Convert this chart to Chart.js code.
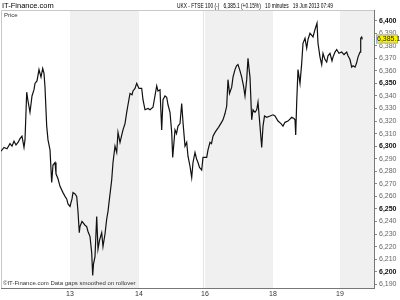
<!DOCTYPE html>
<html>
<head>
<meta charset="utf-8">
<script src="https://cdn.jsdelivr.net/npm/chart.js@4/dist/chart.umd.min.js"></script>
<style>
    html, body { margin: 0; padding: 0; background: #fff; }
    #wrap { width: 400px; height: 300px; }
</style>
</head>
<body>
<div id="wrap"><canvas id="priceChart" width="400" height="300"></canvas></div>
<script>
"use strict";

// 10-minute bar index (from the left edge of the chart) and FTSE 100 price
const barIndex = [
    0, 3, 6, 9, 11, 13, 15, 17, 19, 21, 23, 24, 25.7, 27, 29, 31, 33, 34, 36, 38,
    40, 41.7, 43, 44, 45.7, 47, 49, 50.7, 52, 54, 55, 57, 59, 62, 64, 65.7, 67, 69,
    71, 72, 74, 75.7, 77, 78.3, 79, 81, 82, 84, 85.7, 87, 89, 90.7, 91.7, 92.5, 94,
    95.7, 97, 98.5, 100.7, 102, 104, 105.7, 107, 108, 110.7, 112, 114, 115.7, 117,
    119, 120.5, 122, 124, 125.7, 127, 129, 131, 132, 134, 135.7, 138,
    140.7, 142, 144, 147, 149, 152, 155.7, 157, 159, 160.7, 162, 164, 165.7, 167,
    169, 170.7, 171.7, 174, 175.5, 177, 179, 180.7, 182, 184, 185.7, 187, 189,
    190.7, 192, 194, 195.5, 197, 198.5, 200.7, 202, 205.7, 207, 209, 210.5, 212,
    214, 215.7, 217.5, 219, 220.5, 222, 224, 225.7, 227, 228.5, 230.7, 232, 234,
    235.5, 237, 239, 240.7, 242.5, 244, 245.7, 247, 248, 249, 250.7, 252, 254,
    255.7, 257, 259, 260.7, 262, 263.5, 265.7, 269, 272, 274, 277, 280, 282, 284,
    287, 290.7, 293, 294, 294.7, 295.7, 297, 299, 300.7, 302, 304, 305.7, 307,
    309, 312, 314, 316, 317, 319, 320.7, 322, 324, 325.7, 327, 329, 331, 332,
    334, 335.7, 338, 340.7, 343, 345.7, 347, 349, 350.7, 352, 354, 355.5, 357,
    359, 359.7, 360.7, 361.3
];

const priceValues = [
    6296, 6299, 6298, 6302, 6300, 6304, 6301, 6303, 6306, 6308, 6299, 6305, 6343, 6336, 6327, 6340, 6345, 6350, 6352, 6361,
    6355, 6362, 6358, 6347, 6316, 6305, 6297, 6271, 6285, 6287, 6278, 6274, 6268, 6263, 6260, 6258, 6254, 6252,
    6258, 6263, 6262, 6260, 6248, 6231, 6236, 6240, 6239, 6237, 6236, 6232, 6228, 6215, 6197, 6206, 6212,
    6244, 6218, 6225, 6231, 6220, 6230, 6242, 6248, 6255, 6273, 6287, 6300, 6295, 6311,
    6303, 6308, 6313, 6318, 6327, 6333, 6342, 6341, 6344, 6346, 6350, 6346,
    6346, 6337, 6329, 6330, 6329, 6331, 6348, 6344, 6345, 6313, 6337, 6340, 6339, 6333,
    6327, 6311, 6291, 6313, 6310, 6316, 6318, 6334, 6319, 6300, 6303, 6292, 6284,
    6275, 6287, 6295, 6290, 6287, 6283, 6281, 6291, 6291, 6297, 6303, 6302, 6308,
    6311, 6313, 6315, 6317, 6319, 6321, 6326, 6332, 6353, 6342, 6347, 6355, 6361,
    6364, 6365, 6360, 6355, 6348, 6340, 6353, 6370, 6362, 6355, 6321, 6329, 6327,
    6329, 6335, 6316, 6299, 6316, 6324, 6323, 6324, 6325, 6324, 6320, 6318, 6316, 6319,
    6320, 6323, 6322, 6321, 6309, 6335, 6361, 6350, 6366, 6382, 6386, 6378, 6385,
    6390, 6387, 6393, 6398, 6382, 6371, 6365, 6374, 6369, 6367, 6372, 6374, 6368, 6371,
    6375, 6377, 6374, 6375, 6373, 6375, 6372, 6369, 6363, 6364, 6363, 6366, 6371,
    6375, 6386, 6387, 6385.1
];

// session starts (bar index) and their day labels
const dayStarts = [69, 138, 204, 272, 339];
const dayLabels = ["13", "14", "16", "18", "19"];
// shaded sessions [from, to]
const shadedDays = [[69, 138], [204, 272], [339, 373]];
const weekendGap = 202;

const lastPrice = 6385.1;
const titleParts = [
    "UKX - FTSE 100 (-)",
    "6,385.1 (+0.15%)",
    "10 minutes",
    "19 Jun 2013 07:49"
];

const FONT = "'Liberation Sans', Arial, sans-serif";

function formatPrice(v)
{
    return Math.round(v).toLocaleString("en-US");
}

const decorPlugin = {
    id: "decor",
    beforeDatasetsDraw(chart) {
        const ctx = chart.ctx;
        const area = chart.chartArea;
        const xs = chart.scales.x;

        ctx.save();
        ctx.fillStyle = "#f0f0f0";
        for (const band of shadedDays) {
            const x0 = xs.getPixelForValue(band[0]);
            const x1 = xs.getPixelForValue(band[1]);
            ctx.fillRect(x0, area.top, x1 - x0, area.bottom - area.top);
        }
        ctx.strokeStyle = "#e4e4e4";
        ctx.lineWidth = 1;
        const gx = Math.round(xs.getPixelForValue(weekendGap)) + 0.5;
        ctx.beginPath();
        ctx.moveTo(gx, area.top);
        ctx.lineTo(gx, area.bottom);
        ctx.stroke();

        ctx.strokeStyle = "#c8c8c8";
        ctx.beginPath();
        ctx.moveTo(area.left + 0.5, area.bottom);
        ctx.lineTo(area.left + 0.5, area.top + 0.5);
        ctx.lineTo(area.right, area.top + 0.5);
        ctx.stroke();

        ctx.fillStyle = "#333";
        ctx.font = "6px " + FONT;
        ctx.textBaseline = "alphabetic";
        ctx.fillText("Price", area.left + 3, area.top + 7);
        ctx.fillText("\u00a9IT-Finance.com Data gaps smoothed on rollover", area.left + 2, area.bottom - 3);
        ctx.restore();
    },
    afterDraw(chart) {
        const ctx = chart.ctx;
        const ys = chart.scales.y;

        ctx.save();
        ctx.fillStyle = "#000";
        ctx.font = "7.5px " + FONT;
        ctx.textBaseline = "alphabetic";
        ctx.fillText("IT-Finance.com", 2, 8);

        // title pieces laid out one after the other, fitted into the header gap
        ctx.font = "7px " + FONT;
        const gap = 6;
        const widths = titleParts.map(t => ctx.measureText(t).width);
        const total = widths.reduce((a, b) => a + b, 0) + gap * (titleParts.length - 1);
        const squeeze = 156 / total;
        ctx.save();
        ctx.translate(177, 8);
        ctx.scale(squeeze, 1);
        let cx = 0;
        titleParts.forEach((t, i) => {
            ctx.fillText(t, cx, 0);
            cx += widths[i] + gap;
        });
        ctx.restore();

        const py = Math.round(ys.getPixelForValue(lastPrice));
        ctx.fillStyle = "#fff200";
        ctx.fillRect(376, py - 4.5, 22, 9);
        ctx.strokeStyle = "#9db4d0";
        ctx.strokeRect(376.5, py - 4, 21, 8);
        ctx.fillStyle = "#222";
        ctx.font = "7px " + FONT;
        ctx.textBaseline = "middle";
        ctx.fillText("6,385.1", 377, py + 0.5);
        ctx.restore();
    }
};

new Chart("priceChart", {
    type: "line",
    data: {
        datasets: [{
            label: "Price",
            data: barIndex.map((x, i) => ({x: x, y: priceValues[i]})),
            borderColor: "#111",
            borderWidth: 1.2,
            pointRadius: 0,
            tension: 0,
            fill: false
        }]
    },
    options: {
        responsive: false,
        animation: false,
        layout: {padding: {left: 1, top: 10, right: 0, bottom: 0}},
        plugins: {
            legend: {display: false},
            tooltip: {enabled: false}
        },
        scales: {
            x: {
                type: "linear",
                min: 0,
                max: 373,
                afterBuildTicks: (scale) => {
                    scale.ticks = dayStarts.map(v => ({value: v}));
                },
                afterFit: (scale) => { scale.height = 12; },
                ticks: {
                    callback: (value, index) => dayLabels[index],
                    font: {family: FONT, size: 7},
                    color: "#333",
                    padding: 2,
                    maxRotation: 0,
                    autoSkip: false
                },
                grid: {drawOnChartArea: false, drawTicks: false},
                border: {display: true, color: "#777"}
            },
            y: {
                position: "right",
                min: 6187,
                max: 6408.5,
                afterFit: (scale) => { scale.width = 26; },
                ticks: {
                    stepSize: 10,
                    includeBounds: false,
                    padding: 2,
                    callback: (value) => formatPrice(value),
                    font: (c) => ({
                        family: FONT,
                        size: 7,
                        weight: (c.tick && c.tick.value % 50 === 0) ? "bold" : "normal"
                    }),
                    color: (c) => (c.tick && c.tick.value % 50 === 0) ? "#111" : "#666"
                },
                grid: {drawOnChartArea: false, tickLength: 3, color: "#888"},
                border: {display: true, color: "#777"}
            }
        }
    },
    plugins: [decorPlugin]
});
</script>
</body>
</html>
